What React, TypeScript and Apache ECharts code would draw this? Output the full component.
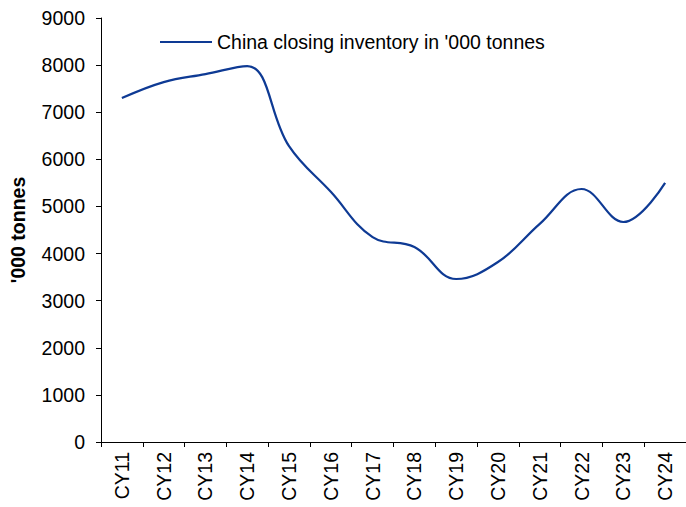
import React, { useEffect, useRef } from "react";
import * as echarts from "echarts";

const categories = ["CY11", "CY12", "CY13", "CY14", "CY15", "CY16", "CY17", "CY18", "CY19", "CY20", "CY21", "CY22", "CY23", "CY24"];
const inventory = [7300, 7640, 7810, 7980, 6280, 5310, 4350, 4140, 3460, 3820, 4630, 5370, 4670, 5500];
const seriesName = "China closing inventory in '000 tonnes";

export default function App() {
  const ref = useRef<HTMLDivElement>(null);
  useEffect(() => {
    if (!ref.current) return;
    const chart = echarts.init(ref.current, null, { renderer: "svg" });
    const font = "Liberation Sans, Arial, sans-serif";
    const fs = 19.5;
    chart.setOption({
      animation: false,
      textStyle: { fontFamily: font },
      grid: { left: 99, right: 0, top: 18, bottom: 65, containLabel: false },
      legend: {
        left: 155,
        top: 27,
        icon: "rect",
        itemWidth: 52,
        itemHeight: 2,
        itemGap: 4,
        textStyle: { fontSize: fs, color: "#000", fontFamily: font },
        data: [seriesName],
      },
      xAxis: {
        type: "category",
        data: categories,
        boundaryGap: true,
        axisLine: { lineStyle: { color: "#000", width: 1 } },
        axisTick: { show: true, alignWithLabel: false, length: 5, lineStyle: { color: "#000" } },
        axisLabel: { rotate: 90, fontSize: fs, color: "#000", margin: 10, fontFamily: font },
      },
      yAxis: {
        type: "value",
        min: 0,
        max: 9000,
        interval: 1000,
        name: "'000 tonnes",
        nameLocation: "middle",
        nameGap: 73,
        nameTextStyle: { fontSize: fs, fontWeight: "bold", color: "#000", fontFamily: font },
        axisLine: { show: true, lineStyle: { color: "#000", width: 1 } },
        axisTick: { show: true, length: 5, lineStyle: { color: "#000" } },
        axisLabel: { fontSize: fs, color: "#000", margin: 16, fontFamily: font, formatter: (v: number) => String(v) },
        splitLine: { show: false },
      },
      series: [
        {
          name: seriesName,
          type: "line",
          data: inventory,
          smooth: 0.4,
          symbol: "none",
          lineStyle: { color: "#0e3a94", width: 2.2 },
          itemStyle: { color: "#0e3a94" },
        },
      ],
    });
    return () => chart.dispose();
  }, []);
  return <div ref={ref} style={{ width: 686, height: 507, position: "absolute", left: 0, top: 0 }} />;
}
